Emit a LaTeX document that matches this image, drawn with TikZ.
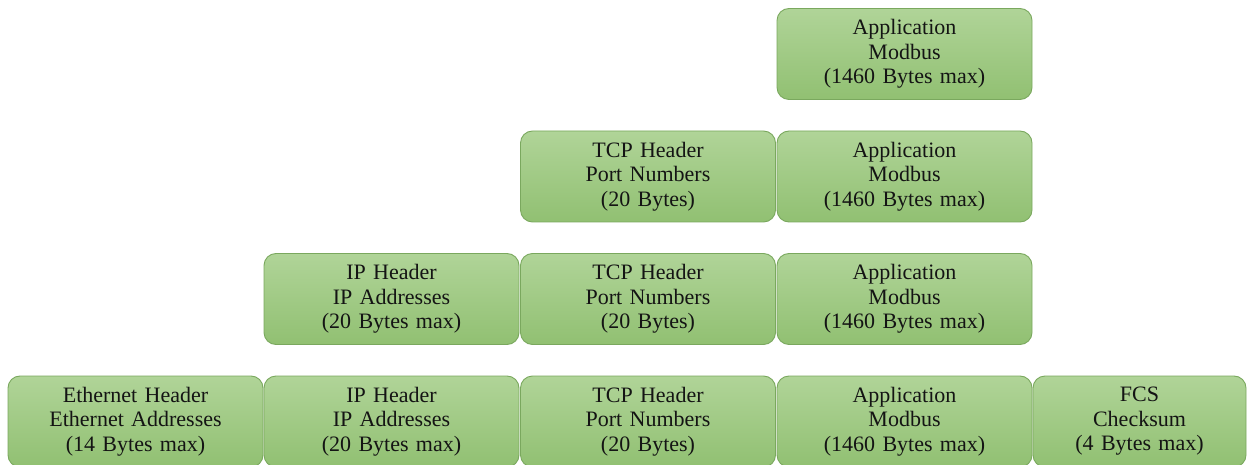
\documentclass[tikz,border=0pt]{standalone}
\usepackage{fontspec}
\setmainfont{Liberation Serif}
\definecolor{gtop}{RGB}{176,212,152}
\definecolor{gbot}{RGB}{145,192,114}
\definecolor{gedge}{RGB}{122,168,94}
\definecolor{txt}{RGB}{20,20,20}
\begin{document}
\begin{tikzpicture}[x=1pt,y=-1pt,
  box/.style={rectangle, rounded corners=12pt, draw=gedge, line width=0.9pt,
    top color=gtop, bottom color=gbot, minimum height=91pt, inner sep=0pt,
    align=center, text=txt, font=\fontsize{22}{24.5}\selectfont},
  wide/.style={box, minimum width=255pt, text width=250pt},
  narrow/.style={box, minimum width=213pt, text width=208pt}]
\useasboundingbox (0,0) rectangle (1250,465);
% row 1
\node[wide] (r1app) at (904.5,54) {Application\\Modbus\\(1460 Bytes max)};
% row 2
\node[wide] (r2tcp) at (648,176.5) {TCP Header\\Port Numbers\\(20 Bytes)};
\node[wide] (r2app) at (904.5,176.5) {Application\\Modbus\\(1460 Bytes max)};
% row 3
\node[wide] (r3ip) at (391.5,299) {IP Header\\IP Addresses\\(20 Bytes max)};
\node[wide] (r3tcp) at (648,299) {TCP Header\\Port Numbers\\(20 Bytes)};
\node[wide] (r3app) at (904.5,299) {Application\\Modbus\\(1460 Bytes max)};
% row 4
\node[wide] (r4eth) at (135.5,421.5) {Ethernet Header\\Ethernet Addresses\\(14 Bytes max)};
\node[wide] (r4ip) at (391.5,421.5) {IP Header\\IP Addresses\\(20 Bytes max)};
\node[wide] (r4tcp) at (648,421.5) {TCP Header\\Port Numbers\\(20 Bytes)};
\node[wide] (r4app) at (904.5,421.5) {Application\\Modbus\\(1460 Bytes max)};
\node[narrow] (r4fcs) at (1139.5,421.5) {FCS\\Checksum\\(4 Bytes max)};
\end{tikzpicture}
\end{document}
